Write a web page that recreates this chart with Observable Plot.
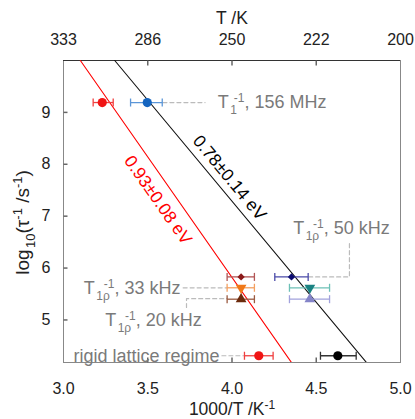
<!DOCTYPE html>
<html>
<head>
<meta charset="utf-8">
<script src="https://cdn.jsdelivr.net/npm/d3@7"></script>
<script src="https://cdn.jsdelivr.net/npm/@observablehq/plot@0.6"></script>
<style>
  html, body { margin: 0; padding: 0; background: #fff; }
  #chart svg { font-family: "Liberation Sans", Arial, sans-serif; }
</style>
</head>
<body>
<div id="chart"></div>
<script>
// ---- data ----
const xDomain = [3.0, 5.0];
const yDomain = [4.18, 10.0];
const xTicks = [3.0, 3.5, 4.0, 4.5, 5.0];
const xTickLabels = ["3.0", "3.5", "4.0", "4.5", "5.0"];
const tTickLabels = ["333", "286", "250", "222", "200"];
const yTicks = [5, 6, 7, 8, 9];

// measured points: 1000/T, log10 rate, horizontal error bounds
const pointX  = [3.23, 3.497, 4.054, 4.054, 4.054, 4.353, 4.462, 4.462, 4.159, 4.628];
const pointY  = [9.19, 9.19, 5.83, 5.62, 5.40, 5.83, 5.62, 5.40, 4.31, 4.31];
const pointLo = [3.176, 3.398, 3.971, 3.971, 3.971, 4.254, 4.341, 4.341, 4.074, 4.525];
const pointHi = [3.295, 3.586, 4.133, 4.133, 4.133, 4.452, 4.579, 4.579, 4.244, 4.737];
const pointSymbol = ["circle", "circle", "diamond2", "triangle", "triangle", "diamond2", "triangle", "triangle", "circle", "circle"];
const pointRotate = [0, 0, 0, 180, 0, 0, 180, 0, 0, 0];
const pointR      = [4.6, 4.6, 3.3, 4.0, 4.0, 3.3, 4.0, 4.0, 4.6, 4.6];
const pointFill   = ["#f01414", "#1565c0", "#8b1a1a", "#f07818", "#6b2a0c", "#0c0c70", "#1a8282", "#8484c8", "#f01414", "#000000"];
const barColor    = ["#f04040", "#5b96d8", "#b25555", "#f4a060", "#9a5a40", "#4a4aa8", "#6cc0b6", "#a2a2dc", "#f04040", "#333333"];

// Arrhenius fits (endpoints where the lines meet the frame)
const redFitX = [3.10, 4.353];
const redFitY = [10.0, 4.18];
const blackFitX = [3.304, 4.798];
const blackFitY = [10.0, 4.18];

// fit annotations
const fitLabels = ["0.93±0.08 eV", "0.78±0.14 eV"];
const fitLabelX = [3.561, 3.985];
const fitLabelY = [7.31, 7.74];
const fitLabelRotate = [55, 50.3];
const fitLabelColor = ["#ff0000", "#000000"];

// series labels
const seriesLabels = ["T_{1}^{-1}, 156 MHz", "T_{1ρ}^{-1}, 50 kHz", "T_{1ρ}^{-1}, 33 kHz", "T_{1ρ}^{-1}, 20 kHz", "rigid lattice regime"];
const seriesLabelX = [3.915, 4.363, 3.694, 3.534, 3.926];
const seriesLabelY = [9.19, 6.76, 5.62, 4.99, 4.31];
const seriesLabelAnchor = ["start", "start", "end", "middle", "end"];

// dashed leader lines (polylines in data units)
const leaderX = [[3.59, 3.84], [4.697, 4.697, 4.455], [3.71, 3.97], [3.73, 3.73, 3.97], [3.94, 4.074]];
const leaderY = [[9.19, 9.19], [6.47, 5.83, 5.83], [5.62, 5.62], [5.24, 5.41, 5.41], [4.31, 4.31]];

// ---- build tables ----
const points = pointX.map((x, i) => ({
  x, y: pointY[i], lo: pointLo[i], hi: pointHi[i], symbol: pointSymbol[i],
  rotate: pointRotate[i], r: pointR[i], fill: pointFill[i], bar: barColor[i]
}));
const fits = [
  ...redFitX.map((x, i) => ({x, y: redFitY[i], fit: "red"})),
  ...blackFitX.map((x, i) => ({x, y: blackFitY[i], fit: "black"}))
];
const fitText = fitLabels.map((t, i) => ({t, x: fitLabelX[i], y: fitLabelY[i], rotate: fitLabelRotate[i], color: fitLabelColor[i]}));
const seriesText = seriesLabels.map((t, i) => ({t, x: seriesLabelX[i], y: seriesLabelY[i], anchor: seriesLabelAnchor[i]}));
const leaders = leaderX.flatMap((xs, k) => xs.map((x, j) => ({x, y: leaderY[k][j], k})));
const innerX = xTicks.slice(1, -1);

// custom symbols: error-bar cap and inward axis ticks (length = r)
const sym = (f) => ({draw(context, size) { f(context, Math.sqrt(size / Math.PI)); }});
const vbar = sym((c, h) => { c.moveTo(0, -h); c.lineTo(0, h); });
const tickUp = sym((c, h) => { c.moveTo(0, 0); c.lineTo(0, -h); });
const tickDown = sym((c, h) => { c.moveTo(0, 0); c.lineTo(0, h); });
const tickRight = sym((c, h) => { c.moveTo(0, 0); c.lineTo(h, 0); });

const gray = "#7a7a7a";
const fsTick = 16, fsTitle = 17.5, fsYTitle = 19, fsFit = 17.5, fsLabel = 18;

const plot = Plot.plot({
  width: 415,
  height: 419,
  marginLeft: 63,
  marginRight: 15,
  marginTop: 60,
  marginBottom: 57,
  style: {fontFamily: "Liberation Sans, Arial, sans-serif", fontSize: "16px", background: "#fff"},
  x: {domain: xDomain},
  y: {domain: yDomain},
  marks: [
    // frame
    Plot.frame({stroke: "#888"}),
    Plot.ruleY([yDomain[1]], {stroke: "#333"}),
    // inward ticks
    Plot.dot(innerX, {x: d => d, y: () => yDomain[0], symbol: tickUp, r: 5, stroke: "#666", fill: "none"}),
    Plot.dot(innerX, {x: d => d, y: () => yDomain[1], symbol: tickDown, r: 5, stroke: "#666", fill: "none"}),
    Plot.dot(yTicks, {x: () => xDomain[0], y: d => d, symbol: tickRight, r: 4, stroke: "#666", fill: "none"}),
    // tick labels
    Plot.axisX({anchor: "bottom", ticks: xTicks, tickSize: 0, tickPadding: 20, tickFormat: d => xTickLabels[xTicks.indexOf(d)], fontSize: fsTick, fill: "#222", label: null}),
    Plot.axisX({anchor: "top", ticks: xTicks, tickSize: 0, tickPadding: 16, tickFormat: d => tTickLabels[xTicks.indexOf(d)], fontSize: fsTick, fill: "#222", label: null}),
    Plot.axisY({anchor: "left", ticks: yTicks, tickSize: 0, tickPadding: 13, tickFormat: d => String(d), fontSize: fsTick, fill: "#222", label: null}),
    // axis titles
    Plot.text(["T /K"], {frameAnchor: "top", textAnchor: "middle", lineAnchor: "middle", dy: -42, fontSize: fsTitle, fill: "#222"}),
    Plot.text(["1000/T /K^{-1}"], {frameAnchor: "bottom", textAnchor: "middle", lineAnchor: "middle", dy: 47, fontSize: fsTitle, fill: "#222"}),
    Plot.text(["log_{10}(τ^{-1} /s^{-1})"], {frameAnchor: "left", textAnchor: "middle", lineAnchor: "middle", dx: -41, dy: 11, rotate: -90, fontSize: fsYTitle, fill: "#222"}),
    // leader lines
    Plot.line(leaders, {x: "x", y: "y", z: "k", stroke: "#bbb", strokeWidth: 1.2, strokeDasharray: "4,3"}),
    // fit lines
    Plot.line(fits, {x: "x", y: "y", z: "fit", stroke: d => d.fit === "red" ? "#ff0000" : "#111", strokeWidth: 1.1, clip: true}),
    // fit labels
    Plot.text(fitText, {x: "x", y: "y", text: "t", rotate: "rotate", fill: "color", fontSize: fsFit}),
    // series labels
    ...seriesLabelAnchor.map((a, i) => Plot.text([seriesText[i]], {x: "x", y: "y", text: "t", textAnchor: a, fill: gray, fontSize: fsLabel})),
    // error bars
    Plot.link(points, {x1: "lo", x2: "hi", y1: "y", y2: "y", stroke: "bar", strokeWidth: 1.3}),
    Plot.dot(points, {x: "lo", y: "y", symbol: vbar, r: 4, stroke: "bar", strokeWidth: 1.3, fill: "none"}),
    Plot.dot(points, {x: "hi", y: "y", symbol: vbar, r: 4, stroke: "bar", strokeWidth: 1.3, fill: "none"}),
    // markers
    Plot.dot(points, {x: "x", y: "y", symbol: "symbol", rotate: "rotate", r: "r", fill: "fill", stroke: "none"})
  ],
  symbol: {type: "identity"},
  r: {type: "identity"},
  color: {type: "identity"}
});

document.getElementById("chart").appendChild(plot);

// rich text: _{sub} and ^{sup}, stacked when adjacent
const NS = "http://www.w3.org/2000/svg";
plot.querySelectorAll("text").forEach(t => {
  const s = t.textContent;
  if (!/[_^]\{/.test(s)) return;
  const parts = s.split(/(_\{[^}]*\}|\^\{[^}]*\})/).filter(p => p !== "");
  t.textContent = "";
  const fsAttr = t.getAttribute("font-size") || (t.parentNode && t.parentNode.getAttribute("font-size"));
  const base = parseFloat(fsAttr) || 16;
  const small = Math.round(base * 0.68);
  let level = 0;
  let pendingSub = null;
  const stacked = [];
  parts.forEach(p => {
    const ts = document.createElementNS(NS, "tspan");
    let target = 0, content = p, size = null;
    if (p.startsWith("_{")) { target = Math.round(base * 0.32); content = p.slice(2, -1); size = small; }
    else if (p.startsWith("^{")) { target = -Math.round(base * 0.36); content = p.slice(2, -1); size = small; }
    const dy = target - level;
    if (dy !== 0) ts.setAttribute("dy", dy);
    if (p.startsWith("_{")) ts.setAttribute("dx", 1.5);
    level = target;
    if (size) ts.setAttribute("font-size", size);
    ts.textContent = content;
    let subLen = 0;
    if (p.startsWith("^{") && pendingSub) {
      subLen = pendingSub.getComputedTextLength();
      ts.setAttribute("dx", -subLen * 0.45);
    }
    t.appendChild(ts);
    if (subLen > 0) stacked.push([ts, subLen * 0.55 - ts.getComputedTextLength()]);
    pendingSub = p.startsWith("_{") ? ts : null;
  });
  stacked.forEach(([ts, extra]) => {
    if (extra > 0 && ts.nextSibling) {
      const nx = ts.nextSibling;
      nx.setAttribute("dx", (parseFloat(nx.getAttribute("dx")) || 0) + extra);
    }
  });
});
</script>
</body>
</html>
